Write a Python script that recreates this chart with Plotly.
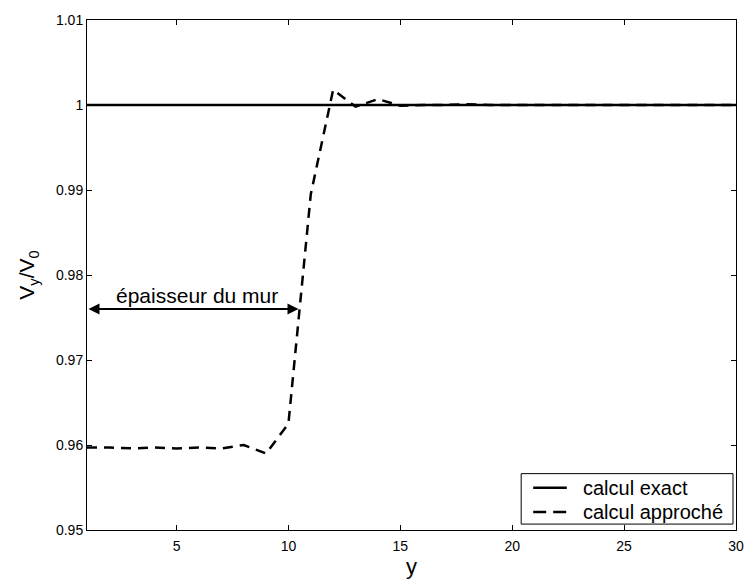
import plotly.graph_objects as go

x_vals = list(range(1, 31))
exact = [1.0] * 30
approx = [0.9597, 0.9597, 0.9596, 0.9597, 0.9596, 0.9597, 0.9596, 0.9600, 0.9590, 0.9625,
          0.9895, 1.0018, 0.9998, 1.0007, 0.9999, 1.0000, 1.0000, 1.0001, 1.0000, 1.0000,
          1.0000, 1.0000, 1.0000, 1.0000, 1.0000, 1.0000, 1.0000, 1.0000, 1.0000, 1.0000]
series_names = ["calcul exact", "calcul approché"]
x_ticks = [5, 10, 15, 20, 25, 30]
y_ticks = [0.95, 0.96, 0.97, 0.98, 0.99, 1.0, 1.01]
y_labels = ["0.95", "0.96", "0.97", "0.98", "0.99", "1", "1.01"]

DASH = "10px,7px"
fig = go.Figure()
fig.add_trace(go.Scatter(x=x_vals, y=exact, mode="lines", name=series_names[0],
                         line=dict(color="black", width=2.5), showlegend=False))
fig.add_trace(go.Scatter(x=x_vals, y=approx, mode="lines", name=series_names[1],
                         line=dict(color="black", width=2.5, dash=DASH), showlegend=False))

fig.add_annotation(x=10.45, y=0.976, ax=1, ay=0.976, xref="x", yref="y", axref="x", ayref="y",
                   text="", showarrow=True, arrowhead=2, arrowside="end+start",
                   arrowwidth=2, arrowsize=1.1, arrowcolor="black", standoff=0, startstandoff=0)
fig.add_annotation(x=5.9, y=0.976, xref="x", yref="y", text="épaisseur du mur",
                   showarrow=False, yanchor="bottom", yshift=0,
                   font=dict(size=21, color="black", family="Liberation Sans, Arial"))

# manual legend box (paper coordinates)
fig.add_shape(type="rect", xref="paper", yref="paper", x0=0.669, x1=0.9954, y0=0.0116, y1=0.1105,
              line=dict(color="black", width=1), fillcolor="white", layer="above")
legend_rows = [0.0828, 0.0355]
legend_dash = ["solid", "13px,7px"]
for name, yr, ds in zip(series_names, legend_rows, legend_dash):
    fig.add_shape(type="line", xref="paper", yref="paper", x0=0.6875, x1=0.7393, y0=yr, y1=yr,
                  line=dict(color="black", width=2.5, dash=ds), layer="above")
    fig.add_annotation(x=0.7607, y=yr, xref="paper", yref="paper", text=name, showarrow=False,
                       xanchor="left", yanchor="middle",
                       font=dict(size=20, color="black", family="Liberation Sans, Arial"))

axis_common = dict(showline=True, linecolor="black", linewidth=1, mirror="ticks",
                   ticks="inside", ticklen=5, tickcolor="black", showgrid=False,
                   zeroline=False, tickfont=dict(size=14, color="black"),
                   ticklabeloverflow="allow")
fig.update_xaxes(range=[1, 30], tickvals=x_ticks, ticklabelstandoff=3,
                 title=dict(text="y", font=dict(size=22), standoff=4), **axis_common)
fig.update_yaxes(range=[0.95, 1.01], tickvals=y_ticks, ticktext=y_labels,
                 title=dict(text="V<sub>y</sub>/V<sub>0</sub>", font=dict(size=21), standoff=15),
                 **axis_common)

fig.update_layout(
    width=756, height=586,
    margin=dict(l=87, r=13, t=14, b=56),
    plot_bgcolor="white", paper_bgcolor="white",
    font=dict(family="Liberation Sans, Arial, sans-serif", color="black"),
    showlegend=False,
)
fig.write_html("out.html", config={"displayModeBar": False},
               post_script="document.body.style.margin='0';document.body.style.overflow='hidden';")
